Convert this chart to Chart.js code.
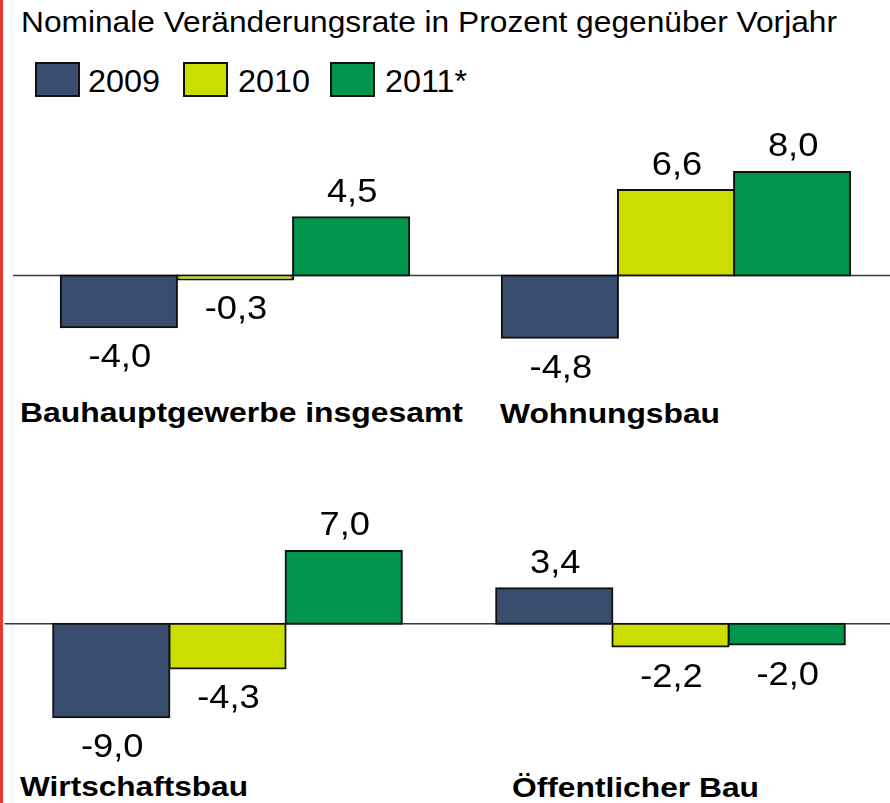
<!DOCTYPE html>
<html>
<head>
<meta charset="utf-8">
<script src="https://cdn.jsdelivr.net/npm/chart.js@4.4.0/dist/chart.umd.min.js"></script>
<style>
  html, body { margin: 0; padding: 0; background: #fff; }
  body { width: 890px; height: 803px; position: relative; overflow: hidden; font-family: "Liberation Sans", Arial, sans-serif; }
  .abs { position: absolute; white-space: nowrap; line-height: 1; color: #000; transform-origin: 0 0; }
  #redbar { position: absolute; left: 0; top: 0; width: 3px; height: 803px; background: #e8392c; }
  .box { position: absolute; width: 45px; height: 35px; box-sizing: border-box; border: 2px solid #111; }
  .wrap { position: absolute; left: 0; width: 890px; overflow: hidden; }
  .inner { position: absolute; left: 0; top: 0; width: 900px; height: 100%; }
</style>
</head>
<body>
<div id="redbar"></div>
<div id="texts"></div>
<div class="wrap" style="top:100px; height:300px;"><div class="inner"><canvas id="top"></canvas></div></div>
<div class="wrap" style="top:480px; height:320px;"><div class="inner"><canvas id="bottom"></canvas></div></div>
<script>
// ---- data ----
const title = 'Nominale Veränderungsrate in Prozent gegenüber Vorjahr';
const years = ['2009', '2010', '2011*'];
const colors = ['#394E6E', '#CCDD00', '#00964D'];
const categoriesTop = ['Bauhauptgewerbe insgesamt', 'Wohnungsbau'];
const top2009 = [-4.0, -4.8];
const top2010 = [-0.3, 6.6];
const top2011 = [4.5, 8.0];
const categoriesBottom = ['Wirtschaftsbau', 'Öffentlicher Bau'];
const bottom2009 = [-9.0, 3.4];
const bottom2010 = [-4.3, -2.2];
const bottom2011 = [7.0, -2.0];

const textsEl = document.getElementById('texts');
function addText(text, x, baseline, size, bold, targetWidth) {
  const d = document.createElement('div');
  d.className = 'abs';
  d.style.left = x + 'px';
  d.style.top = (baseline - 0.8465 * size) + 'px';
  d.style.fontSize = size + 'px';
  if (bold) d.style.fontWeight = 'bold';
  d.textContent = text;
  textsEl.appendChild(d);
  const w = d.getBoundingClientRect().width;
  let s = 1;
  if (targetWidth && w > 0) s = targetWidth / w;
  d.style.transform = 'scaleX(' + s + ')';
  return s;
}

// title
addText(title, 20.5, 32, 30, false, 816);

// legend
const boxX = [35, 183, 330];
const textX = [88, 238, 385];
let legendScale = null;
years.forEach((y, i) => {
  const b = document.createElement('div');
  b.className = 'box';
  b.style.left = boxX[i] + 'px';
  b.style.top = '62px';
  b.style.background = colors[i];
  textsEl.appendChild(b);
  if (legendScale === null) {
    legendScale = addText(y, textX[i], 92, 31, false, 72);
  } else {
    const d = addText(y, textX[i], 92, 31, false, null);
    textsEl.lastChild.style.transform = 'scaleX(' + legendScale + ')';
  }
});

// group labels
addText(categoriesTop[0], 20, 423, 28, true, 443);
addText(categoriesTop[1], 500, 424, 28, true, 220);
addText(categoriesBottom[0], 20, 797, 28, true, 228);
addText(categoriesBottom[1], 511.5, 798, 28, true, 247);

// ---- plugins ----
const zeroLine = {
  id: 'zeroLine',
  beforeDatasetsDraw(chart) {
    const y = chart.scales.y.getPixelForValue(0);
    const ctx = chart.ctx;
    ctx.save();
    ctx.strokeStyle = '#3a3a3a';
    ctx.lineWidth = 1.5;
    ctx.beginPath();
    ctx.moveTo(chart.chartArea.left - 1.5, y);
    ctx.lineTo(chart.width, y);
    ctx.stroke();
    ctx.restore();
  }
};
const valueLabels = {
  id: 'valueLabels',
  afterDatasetsDraw(chart) {
    const ctx = chart.ctx;
    chart.data.datasets.forEach((ds, di) => {
      const meta = chart.getDatasetMeta(di);
      meta.data.forEach((el, i) => {
        const v = ds.data[i];
        const txt = v.toFixed(1).replace('.', ',');
        const y = v >= 0 ? el.y - 15.5 : el.y + 40;
        ctx.save();
        ctx.font = '33px "Liberation Sans", Arial, sans-serif';
        ctx.fillStyle = '#000';
        ctx.textAlign = 'center';
        ctx.textBaseline = 'alphabetic';
        ctx.translate(el.x + 1, y);
        ctx.scale(1.1, 1);
        ctx.fillText(txt, 0, 0);
        ctx.restore();
      });
    });
  }
};

function makeChart(id, cats, series, yMin, yMax, padding, catPct) {
  const c = document.getElementById(id);
  return new Chart(c, {
    type: 'bar',
    data: {
      labels: cats,
      datasets: series.map((d, i) => ({
        label: years[i],
        data: d,
        backgroundColor: colors[i],
        borderColor: '#111',
        borderWidth: 2,
        borderSkipped: false,
        inflateAmount: 1,
        categoryPercentage: catPct,
        barPercentage: 1.0
      }))
    },
    options: {
      responsive: true,
      maintainAspectRatio: false,
      animation: false,
      devicePixelRatio: 1,
      layout: { padding },
      plugins: { legend: { display: false }, tooltip: { enabled: false }, title: { display: false } },
      scales: {
        x: { display: false, offset: true },
        y: { display: false, min: yMin, max: yMax }
      }
    },
    plugins: [zeroLine, valueLabels]
  });
}

makeChart('top', categoriesTop, [top2009, top2010, top2011], -6, 9,
  { left: 14.5, right: 3.5, top: 58.95, bottom: 46.8 }, 0.79);
makeChart('bottom', categoriesBottom, [bottom2009, bottom2010, bottom2011], -11, 9,
  { left: 6, right: 8, top: 50.1, bottom: 61.9 }, 0.787);
</script>
</body>
</html>
